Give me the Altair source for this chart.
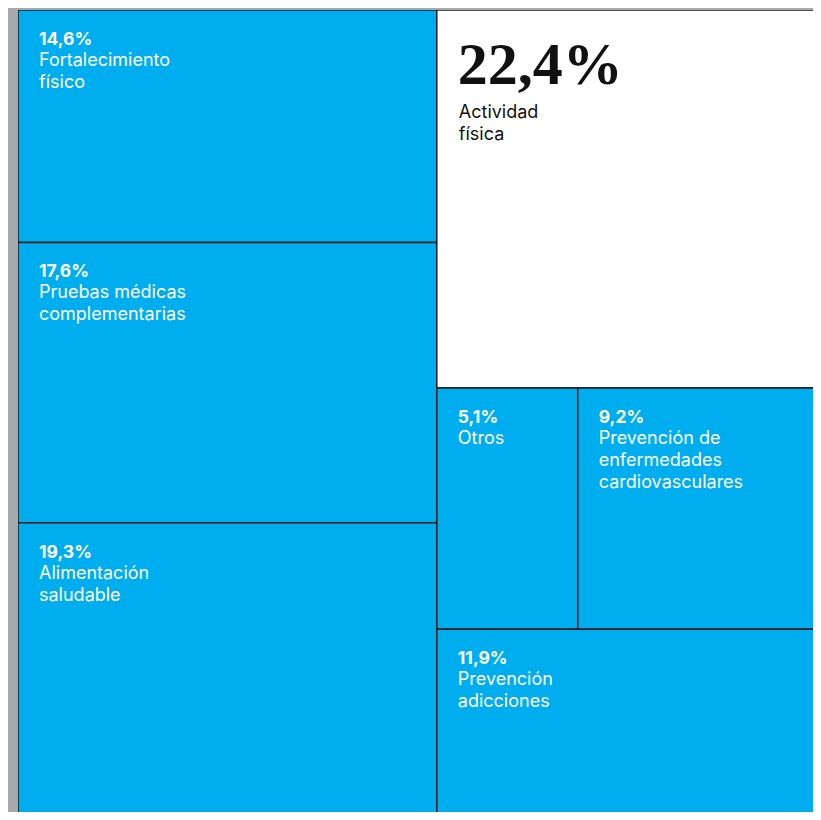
import altair as alt
import pandas as pd

# ---- data ----
categories = [
    "Fortalecimiento\nfísico",
    "Pruebas médicas\ncomplementarias",
    "Alimentación\nsaludable",
    "Actividad\nfísica",
    "Otros",
    "Prevención de\nenfermedades\ncardiovasculares",
    "Prevención\nadicciones",
]
values = [14.6, 17.6, 19.3, 22.4, 5.1, 9.2, 11.9]
value_labels = ["14,6%", "17,6%", "19,3%", "22,4%", "5,1%", "9,2%", "11,9%"]
column = [0, 0, 0, 1, 1, 1, 1]      # treemap column (left / right)
band = [0, 1, 2, 0, 1, 1, 2]        # row inside the column
tone = ["normal", "normal", "normal", "highlight", "normal", "normal", "normal"]

# ---- slice-and-dice treemap layout in unit space ----
total = sum(values)
rows = []
x_start = 0.0
for c in sorted(set(column)):
    idx = [i for i in range(len(values)) if column[i] == c]
    csum = sum(values[i] for i in idx)
    cw = csum / total
    y_start = 0.0
    for b in sorted(set(band[i] for i in idx)):
        bidx = [i for i in idx if band[i] == b]
        bsum = sum(values[i] for i in bidx)
        bh = bsum / csum
        xx = x_start
        for i in bidx:
            w = cw * values[i] / bsum
            rows.append(dict(name=categories[i], value=values[i], pct=value_labels[i],
                             tone=tone[i], x0=xx, x1=xx + w, y0=y_start, y1=y_start + bh))
            xx += w
        y_start += bh
    x_start += cw

df = pd.DataFrame(rows)

# full treemap is larger than the window; only the visible part is shown
FULL_W, FULL_H = 814, 820
PLOT_W, PLOT_H = 795, 802
xs = alt.Scale(domain=[0, PLOT_W / FULL_W], nice=False, zero=False)
ys = alt.Scale(domain=[0, PLOT_H / FULL_H], nice=False, zero=False, reverse=True)
X = alt.X("x0:Q", scale=xs, axis=None)
Y = alt.Y("y0:Q", scale=ys, axis=None)

base = alt.Chart(df)
normal = base.transform_filter(alt.datum.tone == "normal")
high = base.transform_filter(alt.datum.tone == "highlight")

rects = base.mark_rect(stroke="#1a1a1a", strokeWidth=1.5, clip=True).encode(
    x=X, x2="x1:Q", y=Y, y2="y1:Q",
    color=alt.Color("tone:N", scale=alt.Scale(domain=["normal", "highlight"],
                                              range=["#00ADEF", "#FFFFFF"]), legend=None),
)

SANS = "Inter"

pct_text = normal.mark_text(
    align="left", baseline="alphabetic", dx=21, dy=35,
    font=SANS, fontWeight="bold", fontSize=17.5, color="white",
).encode(x=X, y=Y, text="pct:N")

name_text = normal.mark_text(
    align="left", baseline="alphabetic", dx=21, dy=56, lineBreak="\n", lineHeight=22,
    font=SANS, fontSize=18, color="white",
).encode(x=X, y=Y, text="name:N")

big_text = high.mark_text(
    align="left", baseline="alphabetic", dx=21, dy=74,
    font="Liberation Serif", fontWeight="bold", fontSize=60, color="#111111",
).encode(x=X, y=Y, text="pct:N")

big_name = high.mark_text(
    align="left", baseline="alphabetic", dx=22, dy=108, lineBreak="\n", lineHeight=22,
    font=SANS, fontSize=18, color="#111111",
).encode(x=X, y=Y, text="name:N")

chart = alt.layer(rects, pct_text, name_text, big_text, big_name).properties(
    width=PLOT_W, height=PLOT_H,
    padding={"left": 10, "top": 2, "right": 0, "bottom": 0},
    autosize=alt.AutoSizeParams(type="none"),
    background="#A7A9AC",
).configure_view(strokeWidth=0)

chart.save("out.html", embed_options={"renderer": "svg", "actions": False})
